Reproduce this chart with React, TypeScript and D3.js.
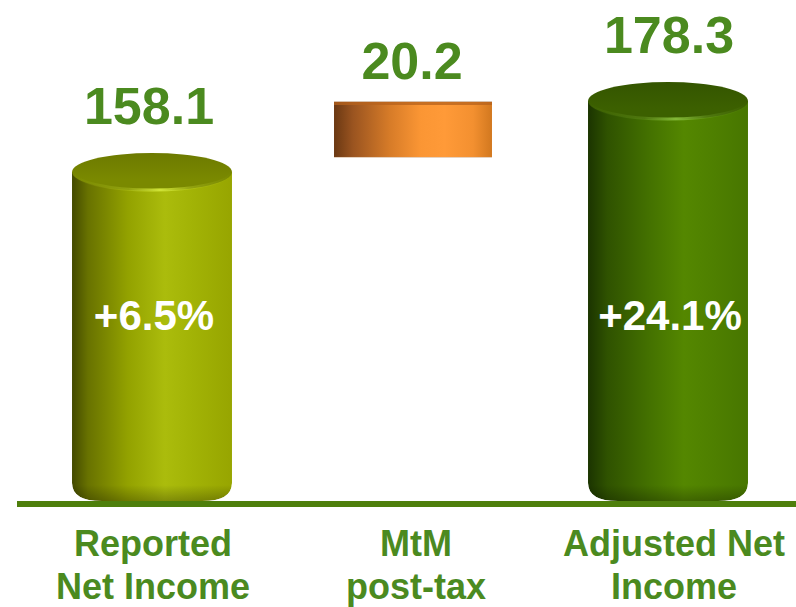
import React from "react";
import * as d3 from "d3";

const categories = ["Reported\nNet Income", "MtM\npost-tax", "Adjusted Net\nIncome"];
const values = [158.1, 20.2, 178.3];
const kinds = ["total", "delta", "total"];
const valueLabels = ["158.1", "20.2", "178.3"];
const growthLabels = ["+6.5%", "", "+24.1%"];

const W = 796;
const H = 607;
const BASE = 502;
const RY = 19;
const FONT = "'Liberation Sans', Arial, Helvetica, sans-serif";
const GREEN_TEXT = "#4b8a1f";
const VALUE_DX = [-3, 2, 1];

export default function App() {
  const x = d3.scaleBand<string>().domain(categories).range([23, 797]).paddingInner(0.38).paddingOuter(0.19);
  const y = d3.scaleLinear().domain([64.2, 178.3]).range([BASE, 101]);

  // waterfall: running totals
  const bars = values.map((v, i) => {
    const k = kinds[i];
    let lo = 0;
    let hi = v;
    if (k === "delta") {
      lo = values[i - 1];
      hi = values[i - 1] + v;
    }
    return { cat: categories[i], v, k, lo, hi, i };
  });

  const palettes = [
    {
      body: [
        ["0%", "#434a00"],
        ["10%", "#687200"],
        ["35%", "#93a200"],
        ["58%", "#abbc0c"],
        ["75%", "#a2b306"],
        ["100%", "#97a500"],
      ],
      top: "#7a8900",
      topBack: "#6d7a00",
      hi: "#d4e83a",
    },
    null,
    {
      body: [
        ["0%", "#1b3400"],
        ["12%", "#2f5200"],
        ["40%", "#457300"],
        ["60%", "#548700"],
        ["80%", "#4e7f00"],
        ["100%", "#477600"],
      ],
      top: "#3c6000",
      topBack: "#345500",
      hi: "#86bd3a",
    },
  ];

  return (
    <svg width={W} height={H} style={{ position: "absolute", left: 0, top: 0, display: "block", background: "#fff" }}>
      <defs>
        {palettes.map((p, i) =>
          p ? (
            <g key={i}>
              <linearGradient id={`body${i}`} x1="0" x2="1" y1="0" y2="0">
                {p.body.map(([o, c]) => (
                  <stop key={o} offset={o} stopColor={c} />
                ))}
              </linearGradient>
              <linearGradient id={`top${i}`} x1="0" x2="0" y1="0" y2="1">
                <stop offset="0%" stopColor={p.topBack} />
                <stop offset="70%" stopColor={p.top} />
                <stop offset="100%" stopColor={p.top} />
              </linearGradient>
              <linearGradient id={`rim${i}`} x1="0" x2="1" y1="0" y2="0">
                <stop offset="0%" stopColor={p.hi} stopOpacity={0} />
                <stop offset="35%" stopColor={p.hi} stopOpacity={0.25} />
                <stop offset="55%" stopColor={p.hi} stopOpacity={0.95} />
                <stop offset="75%" stopColor={p.hi} stopOpacity={0.25} />
                <stop offset="100%" stopColor={p.hi} stopOpacity={0} />
              </linearGradient>
            </g>
          ) : null
        )}
        <linearGradient id="bottomShade" x1="0" x2="0" y1="0" y2="1">
          <stop offset="0%" stopColor="#000" stopOpacity={0} />
          <stop offset="100%" stopColor="#000" stopOpacity={0.28} />
        </linearGradient>
        <linearGradient id="orange" x1="0" x2="1" y1="0" y2="0">
          <stop offset="0%" stopColor="#6a3813" />
          <stop offset="12%" stopColor="#9a5420" />
          <stop offset="35%" stopColor="#d67b28" />
          <stop offset="55%" stopColor="#fb9634" />
          <stop offset="70%" stopColor="#ff9a38" />
          <stop offset="88%" stopColor="#f39030" />
          <stop offset="100%" stopColor="#d2781f" />
        </linearGradient>
      </defs>

      {bars.map((b) => {
        const x0 = x(b.cat)!;
        const w = x.bandwidth();
        const x1 = x0 + w;
        const cx = x0 + w / 2;
        if (b.k === "delta") {
          const yTop = y(b.hi) + 1;
          const yBot = y(b.lo) - RY + 4;
          return (
            <g key={b.cat}>
              <rect x={x0 + 4} y={yTop} width={w - 2} height={yBot - yTop} fill="url(#orange)" />
              <rect x={x0 + 4} y={yTop} width={w - 2} height={3} fill="#b5621c" opacity={0.75} />
              <rect x={x0 + 4} y={yTop - 1} width={w - 2} height={1} fill="#d9c2ae" />
              <rect x={x0 + 4} y={yBot} width={w - 2} height={1} fill="#e6d2c0" />
            </g>
          );
        }
        const yTop = y(b.hi);
        const yBot = BASE - 1;
        const rb = 18;
        const rbx = 30;
        const path = `M${x0},${yTop} L${x0},${yBot - rb} Q${x0},${yBot} ${x0 + rbx},${yBot} L${x1 - rbx},${yBot} Q${x1},${yBot} ${x1},${yBot - rb} L${x1},${yTop} Z`;
        return (
          <g key={b.cat}>
            <path d={path} fill={`url(#body${b.i})`} />
            <rect x={x0} y={yBot - 16} width={w} height={16} fill="url(#bottomShade)" opacity={0.9} />
            <ellipse cx={cx} cy={yTop} rx={w / 2} ry={RY} fill={`url(#top${b.i})`} />
            <path
              d={`M${x0 + 1},${yTop} A${w / 2 - 1},${RY - 1} 0 0 0 ${x1 - 1},${yTop}`}
              fill="none"
              stroke={`url(#rim${b.i})`}
              strokeWidth={3}
            />
          </g>
        );
      })}

      {/* white corners outside the rounded bottoms */}
      {bars
        .filter((b) => b.k !== "delta")
        .map((b) => {
          const x0 = x(b.cat)!;
          const w = x.bandwidth();
          const x1 = x0 + w;
          const yBot = BASE - 1;
          return (
            <g key={`c${b.cat}`} fill="#fff">
              <path d={`M${x0 - 1},${yBot - 18} L${x0},${yBot - 18} Q${x0},${yBot} ${x0 + 30},${yBot} L${x0 - 1},${yBot} Z`} />
              <path d={`M${x1 + 1},${yBot - 18} L${x1},${yBot - 18} Q${x1},${yBot} ${x1 - 30},${yBot} L${x1 + 1},${yBot} Z`} />
            </g>
          );
        })}

      {/* baseline */}
      <rect x={17} y={BASE - 1} width={W - 17} height={6} fill="#4e7f0c" />

      {/* value labels */}
      {bars.map((b) => {
        const cx = x(b.cat)! + x.bandwidth() / 2 + VALUE_DX[b.i];
        const yy = b.k === "delta" ? y(b.hi) - 22 : y(b.hi) - RY - 29;
        return (
          <text
            key={`v${b.cat}`}
            x={cx}
            y={yy}
            textAnchor="middle"
            fontFamily={FONT}
            fontWeight="bold"
            fontSize={52}
            fill={GREEN_TEXT}
          >
            {valueLabels[b.i]}
          </text>
        );
      })}

      {/* growth labels */}
      {bars.map((b) =>
        growthLabels[b.i] ? (
          <text
            key={`g${b.cat}`}
            x={x(b.cat)! + x.bandwidth() / 2 + 2}
            y={330}
            textAnchor="middle"
            fontFamily={FONT}
            fontWeight="bold"
            fontSize={42}
            fill="#ffffff"
          >
            {growthLabels[b.i]}
          </text>
        ) : null
      )}

      {/* category labels */}
      {bars.map((b) => {
        const cx = x(b.cat)! + x.bandwidth() / 2 + (b.i === 0 ? 1 : 6);
        const lines = b.cat.split("\n");
        return (
          <text
            key={`c${b.cat}`}
            textAnchor="middle"
            fontFamily={FONT}
            fontWeight="bold"
            fontSize={36}
            fill={GREEN_TEXT}
          >
            {lines.map((l, j) => (
              <tspan key={j} x={cx} y={556 + j * 43}>
                {l}
              </tspan>
            ))}
          </text>
        );
      })}
    </svg>
  );
}
